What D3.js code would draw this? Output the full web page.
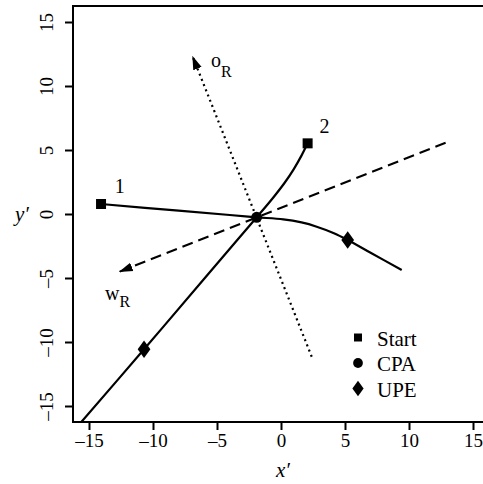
<!DOCTYPE html>
<html>
<head>
<meta charset="utf-8">
<script src="https://cdn.jsdelivr.net/npm/d3@7"></script>
<style>
  body { margin: 0; background: #fff; }
  svg text { font-family: "Liberation Serif", "DejaVu Serif", serif !important; fill: #000; }
</style>
</head>
<body>
<div class="chart"></div>
<script>
var svgWidth = 483;
var svgHeight = 484;

// data
var ticks = [-15, -10, -5, 0, 5, 10, 15];

// vessel 1 track
var track1X = [-14.06, -8, -4, -1.9, 0.18, 1.6, 2.79, 4.09, 5.21, 7, 9.43];
var track1Y = [0.78, 0.26, -0.08, -0.26, -0.42, -0.66, -0.99, -1.48, -2.03, -3.03, -4.375];
// vessel 2 track
var track2X = [2.08, 1.6, 1.0, 0.3, -0.6, -1.9, -3.5, -6, -10.7, -15.6];
var track2Y = [5.52, 4.56, 3.51, 2.46, 1.29, -0.26, -2.13, -5.06, -10.57, -16.25];

var startX = [-14.06, 2.08];
var startY = [0.78, 5.52];
var cpaX = [-1.9];
var cpaY = [-0.26];
var upeX = [5.21, -10.7];
var upeY = [-2.03, -10.57];

// relative axes (from, to)
var wAxisX = [12.86, -12.6];
var wAxisY = [5.57, -4.5];
var oAxisX = [2.4, -6.9];
var oAxisY = [-11.15, 12.3];

var legendLabels = ["Start", "CPA", "UPE"];

var svg = d3.select(".chart")
  .append("svg")
  .attr("width", svgWidth)
  .attr("height", svgHeight);

var x = d3.scaleLinear().domain([-16.25, 16.25]).range([73, 489]);
var y = d3.scaleLinear().domain([-16.25, 16.25]).range([422, 6]);

var fmt = d => d < 0 ? "\u2013" + Math.abs(d) : String(d);
var serif = "Liberation Serif, DejaVu Serif, serif";

// arrow head
svg.append("defs").append("marker")
  .attr("id", "head")
  .attr("markerUnits", "userSpaceOnUse")
  .attr("viewBox", "0 0 14 10")
  .attr("refX", 13)
  .attr("refY", 5)
  .attr("markerWidth", 14)
  .attr("markerHeight", 10)
  .attr("orient", "auto")
  .append("path")
  .attr("d", "M0,0.5 L14,5 L0,9.5 Z")
  .attr("fill", "#000");

svg.append("clipPath").attr("id", "plotclip")
  .append("rect")
  .attr("x", x(-16.25)).attr("y", y(16.25))
  .attr("width", x(16.25) - x(-16.25))
  .attr("height", y(-16.25) - y(16.25));

var plot = svg.append("g").attr("clip-path", "url(#plotclip)");

// reference axes
plot.append("line")
  .attr("x1", x(wAxisX[0])).attr("y1", y(wAxisY[0]))
  .attr("x2", x(wAxisX[1])).attr("y2", y(wAxisY[1]))
  .attr("stroke", "#000").attr("stroke-width", 2)
  .attr("stroke-dasharray", "11,6")
  .attr("marker-end", "url(#head)");

plot.append("line")
  .attr("x1", x(oAxisX[0])).attr("y1", y(oAxisY[0]))
  .attr("x2", x(oAxisX[1])).attr("y2", y(oAxisY[1]))
  .attr("stroke", "#000").attr("stroke-width", 2.2)
  .attr("stroke-dasharray", "2,3.6")
  .attr("marker-end", "url(#head)");

// tracks
var line = d3.line().x(d => x(d[0])).y(d => y(d[1])).curve(d3.curveCatmullRom.alpha(0.5));

plot.append("path")
  .datum(track1X.map((v, i) => [v, track1Y[i]]))
  .attr("d", line)
  .attr("fill", "none").attr("stroke", "#000").attr("stroke-width", 2.2);

plot.append("path")
  .datum(track2X.map((v, i) => [v, track2Y[i]]))
  .attr("d", line)
  .attr("fill", "none").attr("stroke", "#000").attr("stroke-width", 2.2);

// point symbols
var sqr = d3.symbol().type(d3.symbolSquare).size(100);
var circ = d3.symbol().type(d3.symbolCircle).size(95);
var diam = d3.symbol().type(d3.symbolDiamond).size(90);

plot.selectAll(".start")
  .data(startX.map((v, i) => [v, startY[i]]))
  .enter().append("path")
  .attr("d", sqr)
  .attr("transform", d => `translate(${x(d[0])},${y(d[1])})`);

plot.selectAll(".cpa")
  .data(cpaX.map((v, i) => [v, cpaY[i]]))
  .enter().append("path")
  .attr("d", circ)
  .attr("transform", d => `translate(${x(d[0])},${y(d[1])})`);

plot.selectAll(".upe")
  .data(upeX.map((v, i) => [v, upeY[i]]))
  .enter().append("path")
  .attr("d", diam)
  .attr("transform", d => `translate(${x(d[0])},${y(d[1])}) scale(1.25,1)`);

// labels
svg.append("text").attr("x", x(-12.6)).attr("y", y(1.65))
  .attr("text-anchor", "middle").style("font-size", "20px").text("1");
svg.append("text").attr("x", x(3.4)).attr("y", y(6.35))
  .attr("text-anchor", "middle").style("font-size", "20px").text("2");

var oLab = svg.append("text").attr("x", 211).attr("y", 67).style("font-size", "20px");
oLab.append("tspan").text("o");
oLab.append("tspan").attr("dy", 10).style("font-size", "16px").text("R");

var wLab = svg.append("text").attr("x", 105).attr("y", 300).style("font-size", "20px");
wLab.append("tspan").text("w");
wLab.append("tspan").attr("dy", 7).style("font-size", "16px").text("R");

// frame
svg.append("rect")
  .attr("x", x(-16.25)).attr("y", y(16.25))
  .attr("width", x(16.25) - x(-16.25))
  .attr("height", y(-16.25) - y(16.25))
  .attr("fill", "none").attr("stroke", "#000").attr("stroke-width", 2);

// x axis
var xAxis = svg.append("g").attr("transform", `translate(0,${y(-16.25)})`)
  .call(d3.axisBottom(x).tickValues(ticks).tickSize(8).tickFormat(fmt))
  .attr("font-family", serif).attr("font-size", 19);
xAxis.select(".domain").remove();
xAxis.selectAll("line").attr("stroke-width", 2);
xAxis.selectAll("text").attr("y", 25).attr("dy", 0)
  .attr("font-family", serif).style("font-size", "19px");

// y axis
var yAxis = svg.append("g").attr("transform", `translate(${x(-16.25)},0)`)
  .call(d3.axisLeft(y).tickValues(ticks).tickSize(8).tickFormat(fmt))
  .attr("font-family", serif).attr("font-size", 19);
yAxis.select(".domain").remove();
yAxis.selectAll("line").attr("stroke-width", 2);
yAxis.selectAll("text")
  .attr("x", null).attr("dy", null)
  .attr("transform", "translate(-20,0) rotate(-90)")
  .attr("text-anchor", "middle")
  .attr("font-family", serif).style("font-size", "19px");

// axis titles
svg.append("text").attr("x", 283).attr("y", 477)
  .attr("text-anchor", "middle").style("font-size", "21px").style("font-style", "italic")
  .text("x\u2032");
svg.append("text").attr("x", 22).attr("y", 221)
  .attr("text-anchor", "middle").style("font-size", "21px").style("font-style", "italic")
  .text("y\u2032");

// legend
var legend = svg.append("g");
var legSyms = [d3.symbol().type(d3.symbolSquare).size(64), d3.symbol().type(d3.symbolCircle).size(75), d3.symbol().type(d3.symbolDiamond).size(70)];
legendLabels.forEach(function(lab, i) {
  var cy = 337.5 + i * 25.5;
  legend.append("path").attr("d", legSyms[i])
    .attr("transform", `translate(358,${cy})` + (i === 2 ? " scale(1.25,1)" : ""));
  legend.append("text").attr("x", 377).attr("y", cy + 8)
    .style("font-size", "21px").text(lab);
});
</script>
</body>
</html>
